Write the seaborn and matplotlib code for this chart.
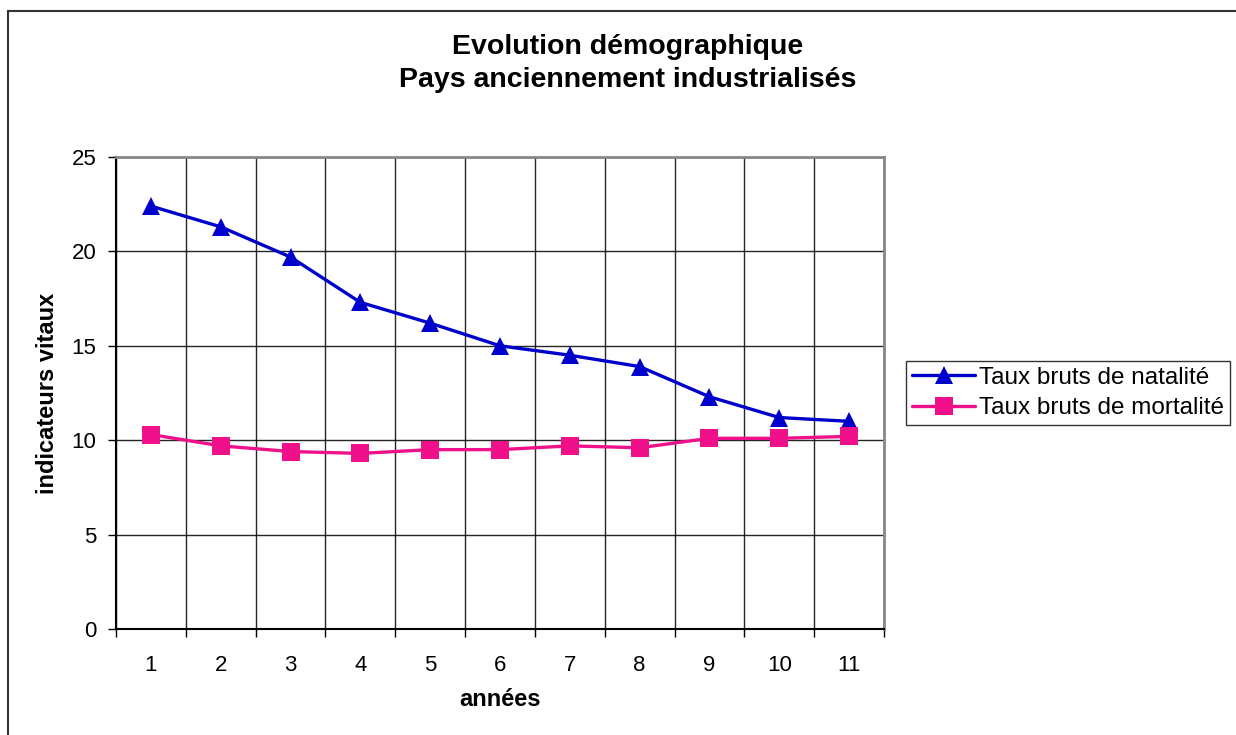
import matplotlib
matplotlib.use("Agg")
import matplotlib.pyplot as plt
import seaborn as sns
import pandas as pd
from matplotlib.patches import Rectangle

annees = list(range(1, 12))
natalite = [22.4, 21.3, 19.7, 17.3, 16.2, 15.0, 14.5, 13.9, 12.3, 11.2, 11.0]
mortalite = [10.3, 9.7, 9.4, 9.3, 9.5, 9.5, 9.7, 9.6, 10.1, 10.1, 10.2]
serie_nat = "Taux bruts de natalité"
serie_mort = "Taux bruts de mortalité"

df = pd.DataFrame({
    "annee": annees * 2,
    "valeur": natalite + mortalite,
    "serie": [serie_nat] * len(annees) + [serie_mort] * len(annees),
})

sns.set_style("white")
plt.rcParams['font.family'] = ['Liberation Sans', 'DejaVu Sans']
plt.rcParams['text.color'] = 'black'
plt.rcParams['axes.labelcolor'] = 'black'
plt.rcParams['xtick.color'] = 'black'
plt.rcParams['ytick.color'] = 'black'

fig = plt.figure(figsize=(12.36, 7.35), dpi=100)
ax = fig.add_axes([116 / 1236, 1 - 629 / 735, 768 / 1236, 472 / 735])

sns.lineplot(data=df, x="annee", y="valeur", hue="serie", style="serie",
             palette={serie_nat: "#0000CC", serie_mort: "#F0108A"},
             markers={serie_nat: "^", serie_mort: "s"}, dashes=False,
             markersize=13, linewidth=2.4, markeredgewidth=0, ax=ax)

ax.set_xlim(0.5, 11.5)
ax.set_ylim(0, 25)
ax.set_yticks(range(0, 26, 5))
ax.set_xticks([a - 0.5 for a in annees] + [11.5])
ax.set_xticklabels([])
ax.set_xticks(annees, minor=True)
ax.set_xticklabels([str(a) for a in annees], minor=True)
ax.tick_params(axis="x", which="minor", length=0, pad=19, labelsize=16)
ax.tick_params(axis="x", which="major", length=6, width=1, color="black", direction="out", bottom=True)
ax.tick_params(axis="y", length=6, width=1, color="black", direction="out", left=True, labelsize=16, pad=8)
ax.grid(True, which="major", color="#000000", linewidth=1, alpha=0.85)

for s in ["left", "bottom"]:
    ax.spines[s].set_color("black")
    ax.spines[s].set_linewidth(1.5)
for s in ["top", "right"]:
    ax.spines[s].set_color("#888888")
    ax.spines[s].set_linewidth(2)

ax.set_xlabel("années", fontsize=17, fontweight="bold", labelpad=8)
ax.set_ylabel("indicateurs vitaux", fontsize=17, fontweight="bold", labelpad=9)

fig.text(627.5 / 1236, 1 - 63.5 / 735, "Evolution démographique\nPays anciennement industrialisés",
         ha="center", va="center", fontsize=20.5, fontweight="bold", linespacing=1.35)

leg = ax.legend(loc="center left", bbox_to_anchor=(906 / 1236, 1 - 393 / 735),
                bbox_transform=fig.transFigure, fontsize=17.5, frameon=True, fancybox=False,
                edgecolor="black", borderpad=0.25, handlelength=2.6, handletextpad=0.15,
                labelspacing=0.35, borderaxespad=0)
leg.get_frame().set_linewidth(1)

fig.patches.append(Rectangle((8 / 1236, -0.05), 1.2, 1 - 11 / 735 + 0.05, transform=fig.transFigure,
                             fill=False, edgecolor="#333333", linewidth=1.5))

fig.savefig("out.png", dpi=100)
